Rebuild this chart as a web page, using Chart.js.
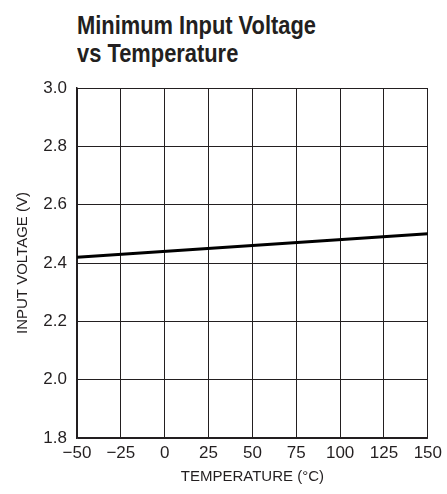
<!DOCTYPE html>
<html>
<head>
<meta charset="utf-8">
<script src="https://cdn.jsdelivr.net/npm/chart.js@4/dist/chart.umd.min.js"></script>
<style>
  body { margin: 0; background: #fff; }
  #wrap { position: relative; width: 447px; height: 494px; }
  #title {
    position: absolute; left: 77px; top: 11px;
    font-family: "Liberation Sans", Arial, sans-serif;
    font-weight: bold; font-size: 25px; line-height: 28px; color: #231f20;
    transform: scaleX(0.875); transform-origin: left top; white-space: nowrap;
  }
  canvas { position: absolute; left: 0; top: 0; }
</style>
</head>
<body>
<div id="wrap">
  <div id="title">Minimum Input Voltage<br>vs Temperature</div>
  <canvas id="chart" width="447" height="494"></canvas>
</div>
<script>
// data
const temperatures = [-50, 50, 150];
const inputVoltage = [2.42, 2.46, 2.50];
const xTicks = [-50, -25, 0, 25, 50, 75, 100, 125, 150];
const yTicks = [1.8, 2.0, 2.2, 2.4, 2.6, 2.8, 3.0];

const fontFamily = '"Liberation Sans", Arial, sans-serif';
const ink = '#231f20';

// format angka minus pakai tanda minus panjang
function formatTick(v) {
    return v < 0 ? '\u2212' + Math.abs(v) : String(v);
}

const ctx = document.getElementById('chart').getContext('2d');
new Chart(ctx, {
    type: 'line',
    data: {
        datasets: [{
            data: temperatures.map((t, i) => ({ x: t, y: inputVoltage[i] })),
            borderColor: '#000',
            borderWidth: 3,
            pointRadius: 0,
            fill: false,
            tension: 0
        }]
    },
    options: {
        responsive: false,
        animation: false,
        layout: { padding: { top: 88, right: 17, left: 0, bottom: 0 } },
        plugins: { legend: { display: false }, tooltip: { enabled: false } },
        scales: {
            x: {
                type: 'linear',
                min: -50, max: 150,
                afterBuildTicks: axis => { axis.ticks = xTicks.map(v => ({ value: v })); },
                afterFit: axis => { axis.height = 56; },
                grid: { color: ink, lineWidth: 1, drawTicks: false },
                border: { color: ink, width: 1.5 },
                ticks: {
                    color: ink, padding: 5,
                    font: { family: fontFamily, size: 17 },
                    maxRotation: 0,
                    callback: v => formatTick(v)
                },
                title: {
                    display: true, text: 'TEMPERATURE (°C)', color: ink,
                    font: { family: fontFamily, size: 15 },
                    padding: { top: 0, bottom: 8 }
                }
            },
            y: {
                min: 1.8, max: 3.0,
                afterBuildTicks: axis => { axis.ticks = yTicks.map(v => ({ value: v })); },
                afterFit: axis => { axis.width = 77; },
                grid: { color: ink, lineWidth: 1, drawTicks: false },
                border: { color: ink, width: 1.5 },
                ticks: {
                    color: ink, padding: 10,
                    font: { family: fontFamily, size: 17 },
                    callback: v => v.toFixed(1)
                },
                title: {
                    display: true, text: 'INPUT VOLTAGE (V)', color: ink,
                    font: { family: fontFamily, size: 15 },
                    padding: { top: 14, bottom: 0 }
                }
            }
        }
    }
});
</script>
</body>
</html>
